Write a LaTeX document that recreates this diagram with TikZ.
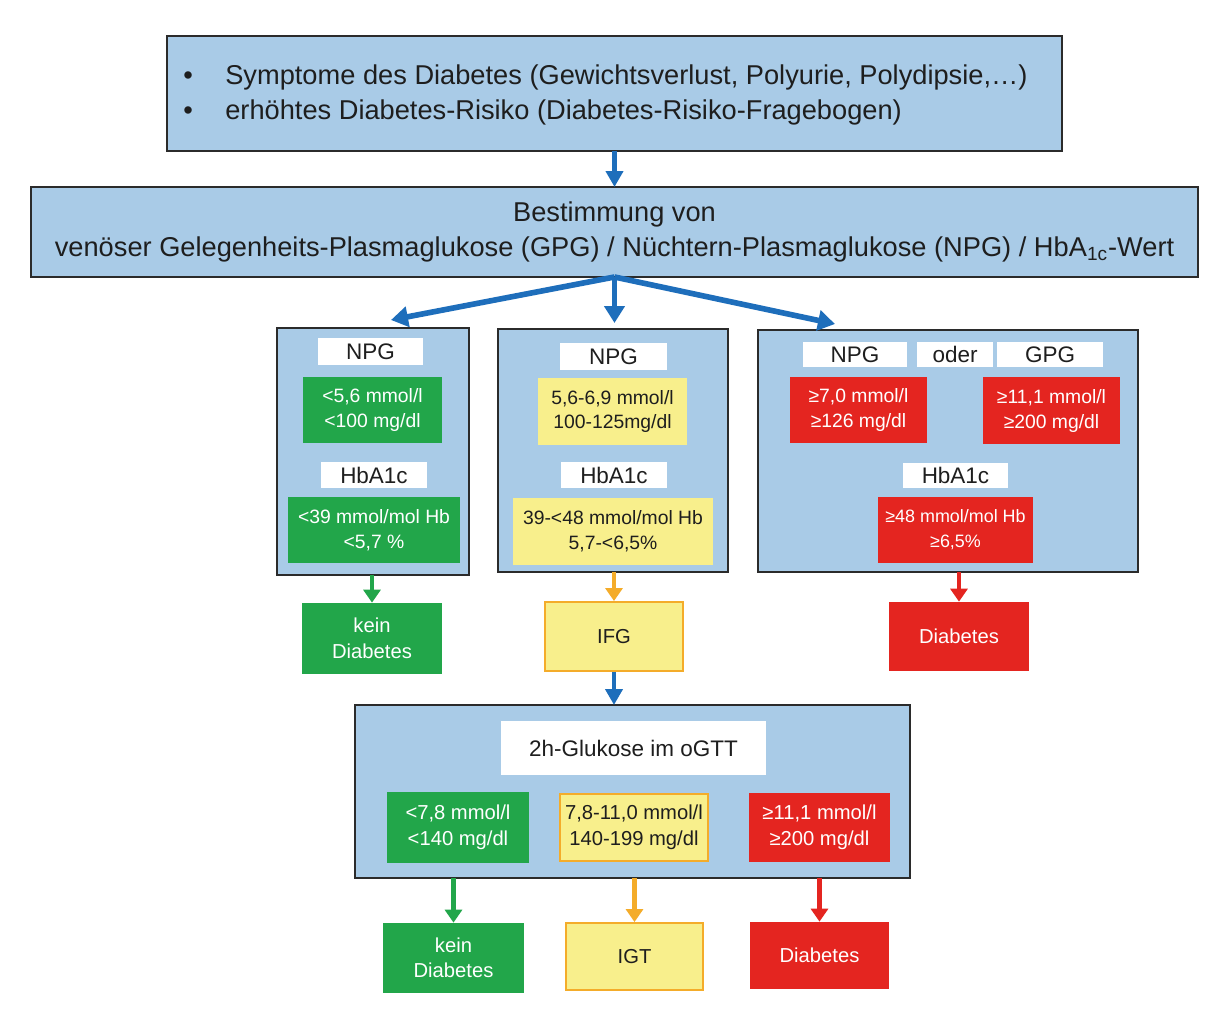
\documentclass[tikz,border=0pt]{standalone}
\usepackage{fontspec}
\setmainfont{Liberation Sans}
\usepackage{xcolor}
\usepackage{tikz}
\usetikzlibrary{arrows.meta,positioning}
\definecolor{panelblue}{HTML}{A9CBE7}
\definecolor{okgreen}{HTML}{22A64A}
\definecolor{warnyellow}{HTML}{F8EF8C}
\definecolor{alarmred}{HTML}{E42520}
\definecolor{flowblue}{HTML}{1E6EBB}
\definecolor{warnorange}{HTML}{F4AC2A}
\definecolor{framegray}{HTML}{2B2B2B}
\definecolor{inkgray}{HTML}{1E1E1E}
\tikzset{
  sz/.style 2 args={minimum width=#1*0.02cm, minimum height=#2*0.02cm},
  panel/.style={rectangle, draw=framegray, fill=panelblue, line width=1.1pt,
    inner sep=0pt, outer sep=0pt, align=center, text=inkgray},
  tag/.style={rectangle, fill=white, inner sep=0pt, text=inkgray,
    font=\fontsize{12.8}{15}\selectfont},
  good/.style={rectangle, fill=okgreen, text=white, inner sep=0pt, align=center,
    font=\fontsize{11}{14.2}\selectfont},
  mid/.style={rectangle, fill=warnyellow, text=inkgray, inner sep=0pt, align=center,
    font=\fontsize{11}{14.2}\selectfont},
  midframed/.style={mid, draw=warnorange, line width=1.1pt},
  bad/.style={rectangle, fill=alarmred, text=white, inner sep=0pt, align=center,
    font=\fontsize{11}{14.2}\selectfont},
  arr/.style={-{Triangle[length=3.2mm, width=3.4mm]}, line width=2.7pt},
  fork/.style={-{Triangle[length=3.4mm, width=4.0mm]}, line width=3.2pt, flowblue},
  res/.style={-{Triangle[length=2.6mm, width=3.4mm]}, line width=2.6pt},
}

\begin{document}
\begin{tikzpicture}[x=0.02cm, y=-0.02cm]
  \fill[white] (0,0) rectangle (1215,1010);
  % entry
  \node[panel, sz={895}{115}] (entry) at (614.5,93.5) {};
  \node[anchor=west, align=left, text=inkgray, inner sep=0pt, font=\fontsize{15.5}{19.4}\selectfont]
    (entrytext) at (183,95) {\makebox[0.84cm][l]{\textbullet}Symptome des Diabetes (Gewichtsverlust, Polyurie, Polydipsie,…)\\
    \makebox[0.84cm][l]{\textbullet}erhöhtes Diabetes-Risiko (Diabetes-Risiko-Fragebogen)};
  \node[panel, sz={1167}{90}, font=\fontsize{15.5}{19.8}\selectfont] (measure) at (614.5,232)
    {Bestimmung von\\venöser Gelegenheits-Plasmaglukose (GPG) / Nüchtern-Plasmaglukose (NPG) / HbA\textsubscript{1c}-Wert};
  \draw[arr, flowblue] (entry.south) -- (measure.north);

  % left column: normal
  \node[panel, sz={192}{247}] (lowpanel) at (373,451.5) {};
  \node[tag, sz={105}{27}] (lownpg) at (370.5,351.5) {NPG};
  \node[good, sz={139}{66}] (lownpgval) at (372.5,410) {<5,6 mmol/l\\<100 mg/dl};
  \node[tag, sz={106}{26}] (lowhba) at (374,475) {HbA1c};
  \node[good, sz={172}{66}] (lowhbaval) at (374,530) {<39 mmol/mol Hb\\<5,7 \%};

  % middle column: borderline
  \node[panel, sz={230}{243}] (midpanel) at (613,450.5) {};
  \node[tag, sz={107}{27}] (midnpg) at (613.5,356.5) {NPG};
  \node[mid, sz={149}{67}] (midnpgval) at (612.5,411.5) {5,6-6,9 mmol/l\\100-125mg/dl};
  \node[tag, sz={106}{26}] (midhba) at (614,475) {HbA1c};
  \node[mid, sz={200}{67}] (midhbaval) at (613,531.5) {39-<48 mmol/mol Hb\\5,7-<6,5\%};

  % right column: diabetes
  \node[panel, sz={380}{242}] (highpanel) at (948,451) {};
  \node[tag, sz={104}{25}] (highnpg) at (855,354.5) {NPG};
  \node[tag, sz={76}{25}] (highor) at (955,354.5) {oder};
  \node[tag, sz={106}{25}] (highgpg) at (1050,354.5) {GPG};
  \node[bad, sz={137}{66}] (highnpgval) at (858.5,410) {≥7,0 mmol/l\\≥126 mg/dl};
  \node[bad, sz={137}{67}] (highgpgval) at (1051.5,411) {≥11,1 mmol/l\\≥200 mg/dl};
  \node[tag, sz={105}{25}] (highhba) at (955.5,475.5) {HbA1c};
  \node[bad, sz={155}{66}, font=\fontsize{10.2}{14.2}\selectfont] (highhbaval) at (955.5,530) {≥48 mmol/mol Hb\\≥6,5\%};

  \coordinate (forkleft) at (391,320);
  \coordinate (forkright) at (835,324);
  \draw[fork] (measure.south) -- (forkleft);
  \draw[fork, shorten >=0.12cm] (measure.south) -- (measure.south |- midpanel.north);
  \draw[fork] (measure.south) -- (forkright);

  % first outcomes
  \node[good, sz={140}{71}, font=\fontsize{11.5}{14.5}\selectfont] (nodiab) at (372,638.5) {kein\\Diabetes};
  \node[midframed, sz={138}{69}, font=\fontsize{11.5}{14.5}\selectfont] (ifg) at (614,636.5) {IFG};
  \node[bad, sz={140}{69}, font=\fontsize{11.5}{14.5}\selectfont] (diab) at (959,636.5) {Diabetes};
  \draw[res, okgreen] (nodiab.north |- lowpanel.south) -- (nodiab.north);
  \draw[res, warnorange] (ifg.north |- midpanel.south) -- (ifg.north);
  \draw[res, alarmred] (diab.north |- highpanel.south) -- (diab.north);

  % oGTT
  \node[panel, sz={555}{173}] (ogtt) at (632.5,791.5) {};
  \node[tag, sz={265}{54}] (ogtttitle) at (633.5,748) {2h-Glukose im oGTT};
  \node[good, sz={142}{71}, font=\fontsize{11.5}{14.5}\selectfont] (ogttlow) at (458,827.5) {<7,8 mmol/l\\<140 mg/dl};
  \node[midframed, sz={148}{67}, font=\fontsize{11.5}{14.5}\selectfont] (ogttmid) at (634,827.5) {7,8-11,0 mmol/l\\140-199 mg/dl};
  \node[bad, sz={141}{69}, font=\fontsize{11.5}{14.5}\selectfont] (ogtthigh) at (819.5,827.5) {≥11,1 mmol/l\\≥200 mg/dl};
  \draw[arr, flowblue] (ifg.south) -- (ifg.south |- ogtt.north);

  % second outcomes
  \node[good, sz={141}{70}, font=\fontsize{11.5}{14.5}\selectfont] (nodiabtwo) at (453.5,958) {kein\\Diabetes};
  \node[midframed, sz={137}{67}, font=\fontsize{11.5}{14.5}\selectfont] (igt) at (634.5,956.5) {IGT};
  \node[bad, sz={139}{67}, font=\fontsize{11.5}{14.5}\selectfont] (diabtwo) at (819.5,955.5) {Diabetes};
  \draw[res, okgreen] (nodiabtwo.north |- ogtt.south) -- (nodiabtwo.north);
  \draw[res, warnorange] (igt.north |- ogtt.south) -- (igt.north);
  \draw[res, alarmred] (diabtwo.north |- ogtt.south) -- (diabtwo.north);
\end{tikzpicture}
\end{document}
